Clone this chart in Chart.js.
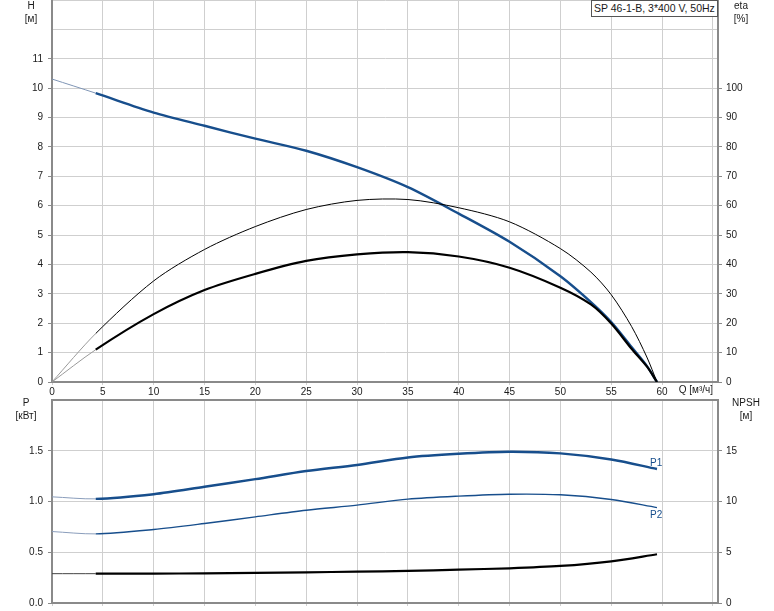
<!DOCTYPE html>
<html>
<head>
<meta charset="utf-8">
<script src="https://cdn.jsdelivr.net/npm/chart.js@4"></script>
<style>
  body { margin: 0; background: #fff; }
  #wrap { position: relative; width: 774px; height: 611px; overflow: hidden; font-family: "Liberation Sans", Arial, sans-serif; color: #1a1a1a; }
  canvas { position: absolute; left: 0; }
  #topChart { top: 0; }
  #bottomChart { top: 390px; }
  .lbl { position: absolute; font-size: 10px; line-height: 12.5px; text-align: center; white-space: nowrap; }
  #title { position: absolute; left: 591px; top: 0; width: 123px; height: 15px; border: 1px solid #555; background: #fff; font-size: 10.5px; line-height: 14px; padding-left: 2px; white-space: nowrap; }
</style>
</head>
<body>
<div id="wrap">
  <canvas id="topChart" width="774" height="400"></canvas>
  <canvas id="bottomChart" width="774" height="221"></canvas>
  <div class="lbl" style="left:16px; top:0px; width:30px;">H<br>[м]</div>
  <div class="lbl" style="left:726px; top:0px; width:30px;">eta<br>[%]</div>
  <div class="lbl" style="left:6px; top:397px; width:40px;">P<br>[кВт]</div>
  <div class="lbl" style="left:726px; top:397px; width:40px;">NPSH<br>[м]</div>
  <div class="lbl" style="left:662px; top:384px; width:51px; text-align:right;">Q [м³/ч]</div>
  <div id="title">SP 46-1-B, 3*400 V, 50Hz</div>
</div>
<script>
// flow values (m3/h)
const qTop = [0, 4.3, 10, 15, 20, 25, 30, 35, 40, 45, 50, 53, 55, 57, 58.5, 59.5];
const headH = [10.31, 9.83, 9.17, 8.72, 8.28, 7.87, 7.31, 6.63, 5.73, 4.77, 3.60, 2.72, 2.04, 1.19, 0.55, 0];
const etaPump = [0, 16.5, 34.4, 45.1, 52.9, 58.7, 61.8, 62.1, 59.3, 54.5, 45.4, 37.4, 29.7, 18.9, 8.5, 0];
const etaTotal = [0, 11.0, 23.1, 31.3, 36.8, 41.2, 43.4, 44.2, 42.7, 38.9, 32.1, 26.4, 19.9, 11.3, 5.3, 0];

const qBottom = [0, 4.3, 10, 15, 20, 25, 30, 35, 40, 45, 50, 55, 59.5];
const powerP1 = [1.046, 1.026, 1.072, 1.145, 1.22, 1.30, 1.36, 1.434, 1.47, 1.49, 1.474, 1.414, 1.32];
const powerP2 = [0.704, 0.681, 0.724, 0.783, 0.849, 0.914, 0.964, 1.023, 1.053, 1.072, 1.066, 1.02, 0.94];
const npsh = [2.89, 2.89, 2.90, 2.92, 2.96, 3.02, 3.09, 3.16, 3.29, 3.42, 3.65, 4.11, 4.80];

const xTicksMax = 60;
const hLabelMax = 11, etaLabelMax = 100, pLabelMax = 1.5, npshLabelMax = 15;

const blue = '#174e8c';
const gridCol = '#cfcfcf';
const axisCol = '#8a8a8a';
const textCol = '#1a1a1a';

Chart.defaults.font.family = '"Liberation Sans", Arial, sans-serif';
Chart.defaults.font.size = 10;
Chart.defaults.color = textCol;

function pts(xs, ys) {
  return xs.map((x, i) => ({ x: x, y: ys[i] }));
}

// thin, lighter start of each curve (before the first real duty point)
function line(label, xs, ys, axis, color, width, thinColor) {
  return {
    label: label,
    data: pts(xs, ys),
    yAxisID: axis,
    borderColor: color,
    borderWidth: width,
    pointRadius: 0,
    fill: false,
    tension: 0.3,
    segment: {
      borderWidth: ctx => ctx.p0.parsed.x < 4 ? 1 : width,
      borderColor: ctx => ctx.p0.parsed.x < 4 ? thinColor : color,
    },
  };
}

function fixSize(prop, size) {
  return function (s) {
    s[prop] = size;
    s.paddingLeft = 0; s.paddingRight = 0; s.paddingTop = 0; s.paddingBottom = 0;
  };
}

function xScale(showLabels, height) {
  return {
    type: 'linear', position: 'bottom', min: 0, max: 65.5, bounds: 'data',
    ticks: {
      display: showLabels, stepSize: 5, includeBounds: false, padding: 1,
      maxRotation: 0, autoSkip: false,
      callback: v => v <= xTicksMax ? v : '',
    },
    grid: { color: gridCol, lineWidth: 1, tickLength: 3 },
    border: { color: axisCol, width: 2 },
    afterFit: fixSize('height', height),
  };
}

function yScale(pos, max, step, labelMax, fmt, width, onArea, topBorder) {
  return {
    type: 'linear', position: pos, min: 0, max: max, bounds: 'data',
    ticks: {
      stepSize: step, padding: pos === 'left' ? 5 : 4,
      callback: v => v <= labelMax + 1e-9 ? fmt(v) : '',
    },
    grid: {
      drawOnChartArea: onArea,
      color: ctx => (topBorder && ctx.tick && ctx.tick.value === max) ? axisCol : gridCol,
      lineWidth: ctx => (topBorder && ctx.tick && ctx.tick.value === max) ? 2 : 1,
      tickLength: 4,
      tickColor: ctx => (ctx.tick && ctx.tick.value <= labelMax + 1e-9) ? axisCol : 'rgba(0,0,0,0)',
    },
    border: { color: axisCol, width: 2 },
    afterFit: fixSize('width', width),
  };
}

const commonOpts = {
  responsive: false,
  animation: false,
  layout: { padding: 0 },
  plugins: { legend: { display: false }, tooltip: { enabled: false } },
};

new Chart(document.getElementById('topChart').getContext('2d'), {
  type: 'line',
  data: {
    datasets: [
      line('eta', qTop, etaPump, 'y2', '#000', 1, '#9a9a9a'),
      line('eta total', qTop, etaTotal, 'y2', '#000', 2.2, '#9a9a9a'),
      line('H', qTop, headH, 'y', blue, 2.4, '#7f95b5'),
    ],
  },
  options: Object.assign({}, commonOpts, {
    scales: {
      x: xScale(true, 18),
      y: yScale('left', 13, 1, hLabelMax, v => String(v), 52, true, false),
      y2: yScale('right', 130, 10, etaLabelMax, v => String(v), 56, false, false),
    },
  }),
});

// P1 / P2 names at the end of their curves
const curveNames = {
  id: 'curveNames',
  afterDatasetsDraw(chart) {
    const ctx = chart.ctx;
    const x = chart.scales.x, y = chart.scales.y;
    const n = qBottom.length - 1;
    ctx.save();
    ctx.fillStyle = blue;
    ctx.font = '10px "Liberation Sans", Arial, sans-serif';
    ctx.textAlign = 'left';
    ctx.textBaseline = 'middle';
    ctx.fillText('P1', x.getPixelForValue(qBottom[n]) - 7, y.getPixelForValue(powerP1[n]) - 6);
    ctx.fillText('P2', x.getPixelForValue(qBottom[n]) - 7, y.getPixelForValue(powerP2[n]) + 8);
    ctx.restore();
  },
};

new Chart(document.getElementById('bottomChart').getContext('2d'), {
  type: 'line',
  data: {
    datasets: [
      line('P1', qBottom, powerP1, 'y', blue, 2.4, '#8a9dbb'),
      line('P2', qBottom, powerP2, 'y', blue, 1.4, '#8a9dbb'),
      line('NPSH', qBottom, npsh, 'y2', '#000', 2.2, '#444'),
    ],
  },
  options: Object.assign({}, commonOpts, {
    layout: { padding: { top: 10 } },
    scales: {
      x: xScale(false, 8),
      y: yScale('left', 2, 0.5, pLabelMax, v => v.toFixed(1), 52, true, true),
      y2: yScale('right', 20, 5, npshLabelMax, v => String(v), 56, false, false),
    },
  }),
  plugins: [curveNames],
});
</script>
</body>
</html>
